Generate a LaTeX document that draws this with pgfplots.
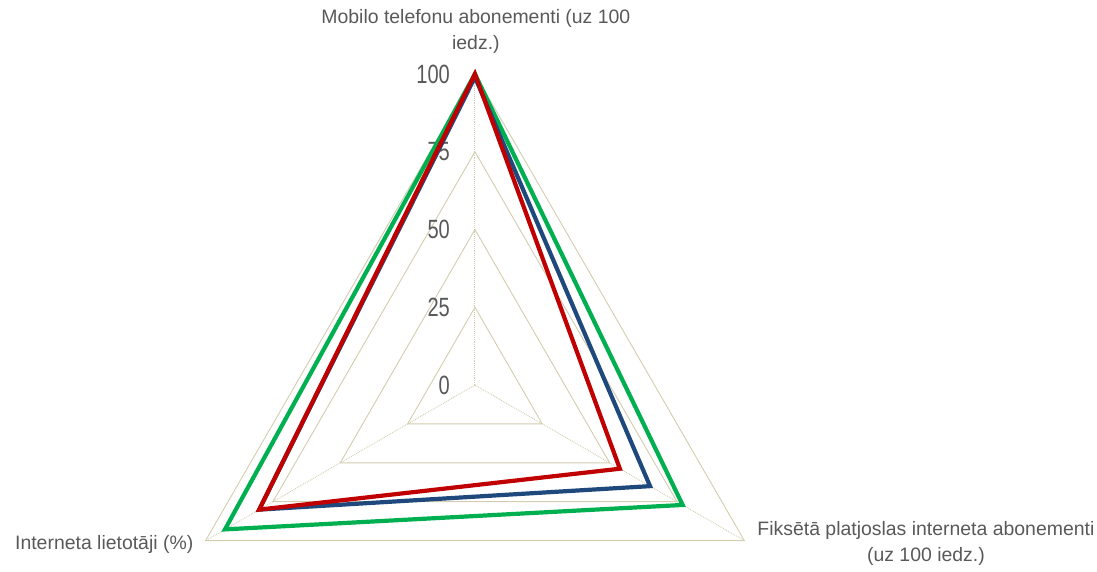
\documentclass[border=0pt]{standalone}
\usepackage{fontspec}
\setmainfont{Liberation Sans}
\newfontfamily\narrowfont{Liberation Sans}[FakeStretch=0.76]
\usepackage{pgfplots}
\pgfplotsset{compat=1.18}
\definecolor{txt}{HTML}{595959}
\definecolor{gridc}{HTML}{D3CCB0}
\definecolor{sgreen}{HTML}{00B050}
\definecolor{sblue}{HTML}{1F497D}
\definecolor{sred}{HTML}{C00000}
\tikzset{
    ticklab/.style={anchor=east, inner sep=0pt, text=txt, font=\narrowfont\fontsize{26.5}{26}\selectfont},
    catlab/.style={align=center, text=txt, font=\fontsize{19.5}{26}\selectfont, inner sep=0pt},
}

\begin{document}
\begin{tikzpicture}
\begin{axis}[
    x=3.11bp, y=3.11bp,
    xmin=-152.7, xmax=200, ymin=-59.8, ymax=123.8,
    hide axis, clip=false,
    grid line/.style={gridc, line width=0.9bp},
    series/.style={line width=4.2bp, line join=miter, data cs=polar},
]
% bounding box of the reference picture
\path (rel axis cs:0,0) rectangle (rel axis cs:1,1);

% grid triangles
\addplot[grid line, data cs=polar] coordinates {(90,25) (-30,25) (210,25)} -- cycle;
\addplot[grid line, data cs=polar] coordinates {(90,50) (-30,50) (210,50)} -- cycle;
\addplot[grid line, data cs=polar] coordinates {(90,75) (-30,75) (210,75)} -- cycle;
\addplot[grid line, data cs=polar] coordinates {(90,100) (-30,100) (210,100)} -- cycle;
% spokes
\addplot[grid line, densely dotted, data cs=polar] coordinates {(90,0) (90,100)};
\addplot[grid line, densely dotted, data cs=polar] coordinates {(-30,0) (-30,100)};
\addplot[grid line, densely dotted, data cs=polar] coordinates {(210,0) (210,100)};

% radial tick labels
\node[ticklab] at (axis cs:-8,0) {0};
\node[ticklab] at (axis cs:-8,25) {25};
\node[ticklab] at (axis cs:-8,50) {50};
\node[ticklab] at (axis cs:-8,75) {75};
\node[ticklab] at (axis cs:-8,100) {100};

% series
\addplot[series, sgreen] coordinates {(90,100) (-30,77.1) (210,92.8)} -- cycle;
\addplot[series, sblue]  coordinates {(90,99) (-30,65) (210,80.1)} -- cycle;
\addplot[series, sred]   coordinates {(90,100) (-30,53.8) (210,80.1)} -- cycle;

% category labels
\node[catlab] at (axis cs:0.3,113.7) {Mobilo telefonu abonementi (uz 100\\iedz.)};
\node[catlab, anchor=west] at (axis cs:-147.9,-51.4) {Interneta lietotāji (\%)};
\node[catlab] at (axis cs:145,-51.0) {Fiksētā platjoslas interneta abonementi\\(uz 100 iedz.)};
\end{axis}
\end{tikzpicture}
\end{document}
